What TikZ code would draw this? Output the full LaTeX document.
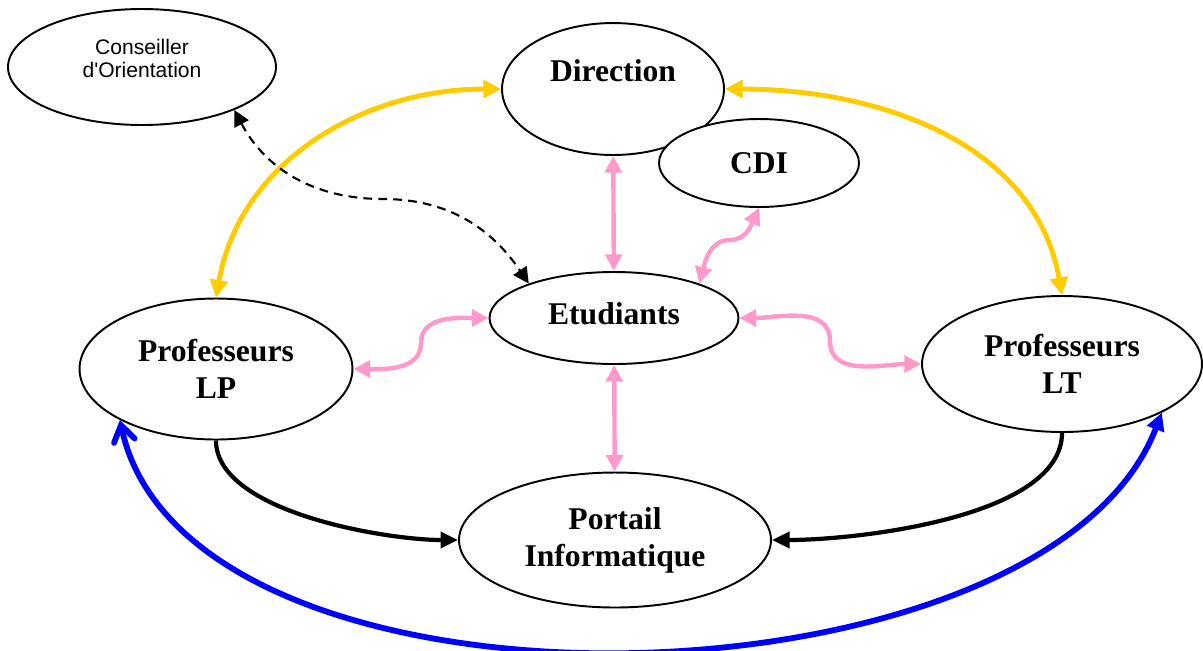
\documentclass[tikz,border=0pt]{standalone}
\usepackage{fontspec}
\setmainfont{Liberation Serif}
\newfontfamily\arialfont{Liberation Sans}
\usetikzlibrary{arrows.meta,shapes.geometric}
\definecolor{jaune}{HTML}{FFCC00}
\definecolor{rose}{HTML}{FF99CC}
\definecolor{bleu}{HTML}{0000FF}

\begin{document}
\begin{tikzpicture}[x=0.02cm,y=-0.02cm,
    bulle/.style={ellipse,draw=black,line width=1.1pt,fill=white,inner sep=0pt,align=center,
                  font=\bfseries\fontsize{18}{21}\selectfont},
    lienjaune/.style={draw=jaune,line width=2.8pt,{Triangle[length=10pt,width=10pt]}-{Triangle[length=10pt,width=10pt]}},
    lienrose/.style={draw=rose,line width=2.5pt,{Triangle[length=9.5pt,width=9.5pt]}-{Triangle[length=9.5pt,width=9.5pt]}},
    liennoir/.style={draw=black,line width=2.4pt,-{Triangle[length=10pt,width=9pt]}},
    lienpointille/.style={draw=black,line width=1.2pt,dash pattern=on 5pt off 3.5pt,{Triangle[length=9pt,width=9pt]}-{Triangle[length=9pt,width=9pt]}},
    lienbleu/.style={draw=bleu,line width=3.3pt,{Straight Barb[length=9pt,width=12pt,line cap=round]}-{Triangle[length=10pt,width=10pt]}}]

    \useasboundingbox (0,0) rectangle (1203,650);

    % ellipses
    \node [bulle,minimum width=5.36cm,minimum height=2.32cm,text depth=10pt,
           font=\arialfont\fontsize{12}{13.2}\selectfont] (cons) at (142,67) {Conseiller\\d'Orientation};
    \node [bulle,minimum width=4.44cm,minimum height=2.64cm,text depth=21.4pt] (dir) at (613,89) {Direction};
    \node [bulle,minimum width=4.0cm,minimum height=1.76cm] (cdi) at (759,163) {CDI};
    \node [bulle,minimum width=4.98cm,minimum height=1.84cm,text depth=5.5pt] (etu) at (614,318) {Etudiants};
    \node [bulle,minimum width=5.46cm,minimum height=2.82cm] (plp) at (216,369) {Professeurs\\LP};
    \node [bulle,minimum width=5.6cm,minimum height=2.72cm] (plt) at (1062,364) {Professeurs\\LT};
    \node [bulle,minimum width=6.24cm,minimum height=2.7cm] (portail) at (615,540) {Portail\\Informatique};

    % points milieu des connecteurs
    \coordinate (lpEtu) at (421,343);
    \coordinate (etuLt) at (830,341);
    \coordinate (etuCdi) at (730,240);
    \coordinate (consEtu) at (383,199);

    % direction
    \draw [lienjaune] (plp.north) to[out=80,in=180] (dir.west);
    \draw [lienjaune] (plt.north) to[out=100,in=0] (dir.east);
    \draw [lienrose] (dir) -- (etu);
    % etudiants
    \draw [lienrose] (etu.22) to[out=75,in=180] (etuCdi) to[out=0,in=-115] (cdi.south);
    \draw [lienrose] (plp.east) to[out=0,in=-90] (lpEtu) to[out=90,in=180] (etu.west);
    \draw [lienrose] (etu.east) to[out=0,in=90] (etuLt) to[out=-90,in=180] (plt.west);
    \draw [lienrose] (etu) -- (portail);
    \draw [lienpointille] (cons.-25) to[out=-62,in=180] (consEtu) to[out=0,in=124] (etu.158);
    % portail
    \draw [liennoir] (plp.south) to[out=-90,in=180,looseness=0.7] (portail.west);
    \draw [liennoir] (plt.south) to[out=-90,in=0,looseness=0.7] (portail.east);
    % LP - LT
    \draw [lienbleu] (plp.-152) to[out=-78,in=-111,looseness=0.8] (plt.-26);

\end{tikzpicture}
\end{document}
